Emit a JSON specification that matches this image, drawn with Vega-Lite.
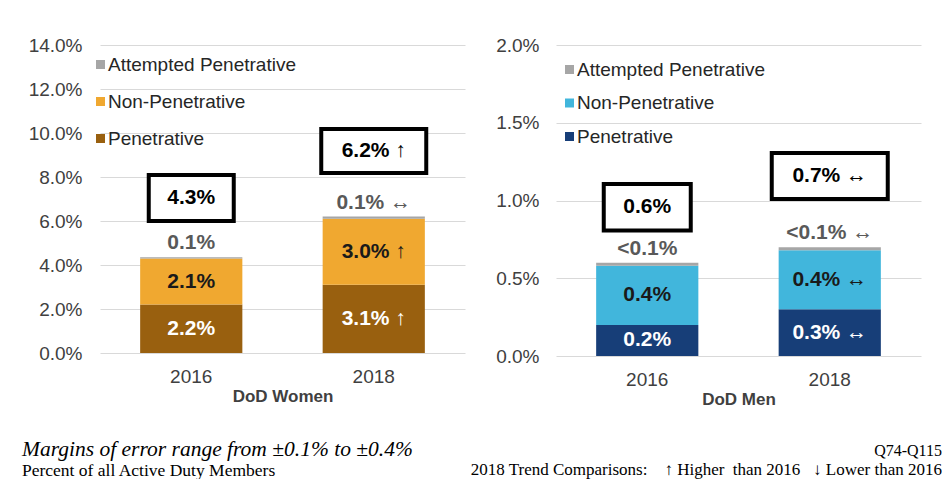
{
  "$schema": "https://vega.github.io/schema/vega-lite/v6.json",
  "background": "white",
  "padding": {"left": 22, "top": 36, "right": 0, "bottom": 0},
  "config": {
    "view": {"stroke": null},
    "font": "Liberation Sans",
    "axis": {"labelFont": "Liberation Sans", "titleFont": "Liberation Sans"},
    "legend": {"labelFont": "Liberation Sans"}
  },
  "datasets": {
    "women": [
      {"year": "2016", "type": "Penetrative", "k": 1, "value": 2.2, "label": "2.2%"},
      {"year": "2016", "type": "Non-Penetrative", "k": 2, "value": 2.1, "label": "2.1%"},
      {"year": "2016", "type": "Attempted Penetrative", "k": 3, "value": 0.05, "label": "0.1%"},
      {"year": "2018", "type": "Penetrative", "k": 1, "value": 3.1, "label": "3.1% ↑"},
      {"year": "2018", "type": "Non-Penetrative", "k": 2, "value": 3.0, "label": "3.0% ↑"},
      {"year": "2018", "type": "Attempted Penetrative", "k": 3, "value": 0.1, "label": "0.1% ↔"}
    ],
    "womenTotals": [
      {"year": "2016", "total": 4.3, "label": "4.3%"},
      {"year": "2018", "total": 6.2, "label": "6.2% ↑"}
    ],
    "men": [
      {"year": "2016", "type": "Penetrative", "k": 1, "value": 0.2, "label": "0.2%"},
      {"year": "2016", "type": "Non-Penetrative", "k": 2, "value": 0.38, "label": "0.4%"},
      {"year": "2016", "type": "Attempted Penetrative", "k": 3, "value": 0.02, "label": "<0.1%"},
      {"year": "2018", "type": "Penetrative", "k": 1, "value": 0.3, "label": "0.3% ↔"},
      {"year": "2018", "type": "Non-Penetrative", "k": 2, "value": 0.38, "label": "0.4% ↔"},
      {"year": "2018", "type": "Attempted Penetrative", "k": 3, "value": 0.02, "label": "<0.1% ↔"}
    ],
    "menTotals": [
      {"year": "2016", "total": 0.6, "label": "0.6%"},
      {"year": "2018", "total": 0.7, "label": "0.7% ↔"}
    ]
  },
  "hconcat": [
    {
      "width": 365,
      "height": 308,
      "title": {
        "text": "Margins of error range from ±0.1% to ±0.4%",
        "subtitle": "Percent of all Active Duty Members",
        "orient": "bottom", "anchor": "start", "frame": "group",
        "dx": -78, "offset": 35,
        "font": "Liberation Serif", "fontStyle": "italic", "fontWeight": "normal", "fontSize": 21.5, "color": "#000000",
        "subtitleFont": "Liberation Serif", "subtitleFontSize": 17.5, "subtitleFontStyle": "normal", "subtitleColor": "#000000", "subtitlePadding": 1
      },
      "data": {"name": "women"},
      "encoding": {
        "x": {
          "field": "year", "type": "nominal",
          "scale": {"paddingInner": 0.44, "paddingOuter": 0.22},
          "axis": {"title": "DoD Women", "labelAngle": 0, "domain": false, "ticks": false, "labelFontSize": 19, "labelColor": "#404040", "labelPadding": 14, "titleFontSize": 17, "titleFontWeight": "bold", "titleColor": "#404040", "titlePadding": 2}
        }
      },
      "layer": [
        {
          "mark": {"type": "bar"},
          "encoding": {
            "y": {
              "field": "value", "type": "quantitative", "stack": "zero",
              "scale": {"domain": [0, 14], "nice": false},
              "axis": {"title": null, "values": [0, 2, 4, 6, 8, 10, 12, 14], "labelExpr": "format(datum.value, '.1f') + '%'", "domain": false, "ticks": false, "grid": true, "gridColor": "#d9d9d9", "labelFontSize": 19, "labelColor": "#404040", "labelPadding": 18}
            },
            "color": {
              "field": "type", "type": "nominal",
              "scale": {"domain": ["Attempted Penetrative", "Non-Penetrative", "Penetrative"], "range": ["#a6a6a6", "#f0a830", "#99600f"]},
              "legend": {"title": null, "orient": "none", "legendX": -9, "legendY": 10, "symbolType": "square", "symbolSize": 81, "symbolStrokeWidth": 0, "labelFontSize": 19, "labelColor": "#262626", "labelOffset": -2, "labelLimit": 400, "rowPadding": 17, "padding": 0}
            },
            "order": {"field": "k", "type": "quantitative"}
          }
        },
        {
          "transform": [{"filter": "datum.type !== 'Attempted Penetrative'"}],
          "mark": {"type": "text", "fontWeight": "bold", "fontSize": 21, "baseline": "middle"},
          "encoding": {
            "y": {"field": "value", "type": "quantitative", "stack": "zero", "bandPosition": 0.5},
            "detail": {"field": "type"},
            "order": {"field": "k", "type": "quantitative"},
            "text": {"field": "label"},
            "color": {"condition": {"test": "datum.type === 'Penetrative'", "value": "#ffffff"}, "value": "#1a1a1a"}
          }
        },
        {
          "transform": [
            {"stack": "value", "groupby": ["year"], "sort": [{"field": "k", "order": "ascending"}], "as": ["v0", "v1"]},
            {"filter": "datum.type === 'Attempted Penetrative'"}
          ],
          "mark": {"type": "text", "fontWeight": "bold", "fontSize": 21, "baseline": "middle", "color": "#595959", "yOffset": -14},
          "encoding": {
            "y": {"field": "v1", "type": "quantitative"},
            "text": {"field": "label"}
          }
        },
        {
          "data": {"name": "womenTotals"},
          "transform": [{"filter": "datum.year === '2016'"}],
          "mark": {"type": "bar", "width": 85, "fill": "white", "stroke": "black", "strokeWidth": 4, "yOffset": -83.4, "y2Offset": -37.4},
          "encoding": {"y": {"field": "total", "type": "quantitative"}, "y2": {"field": "total"}}
        },
        {
          "data": {"name": "womenTotals"},
          "transform": [{"filter": "datum.year === '2018'"}],
          "mark": {"type": "bar", "width": 105, "fill": "white", "stroke": "black", "strokeWidth": 4, "yOffset": -87.6, "y2Offset": -43.6},
          "encoding": {"y": {"field": "total", "type": "quantitative"}, "y2": {"field": "total"}}
        },
        {
          "data": {"name": "womenTotals"},
          "transform": [{"filter": "datum.year === '2016'"}],
          "mark": {"type": "text", "fontWeight": "bold", "fontSize": 21, "baseline": "middle", "color": "#000000", "yOffset": -60},
          "encoding": {"y": {"field": "total", "type": "quantitative"}, "text": {"field": "label"}}
        },
        {
          "data": {"name": "womenTotals"},
          "transform": [{"filter": "datum.year === '2018'"}],
          "mark": {"type": "text", "fontWeight": "bold", "fontSize": 21, "baseline": "middle", "color": "#000000", "yOffset": -65.6},
          "encoding": {"y": {"field": "total", "type": "quantitative"}, "text": {"field": "label"}}
        }
      ]
    },
    {
      "width": 365,
      "height": 311,
      "title": {
        "text": "Q74-Q115",
        "subtitle": "2018 Trend Comparisons:\u00a0\u00a0\u00a0 ↑ Higher\u00a0 than 2016\u00a0\u00a0 ↓ Lower than 2016",
        "orient": "bottom", "anchor": "end", "frame": "group",
        "dx": 21, "offset": 35.5,
        "font": "Liberation Serif", "fontStyle": "normal", "fontWeight": "normal", "fontSize": 16, "color": "#000000",
        "subtitleFont": "Liberation Serif", "subtitleFontSize": 17, "subtitleFontStyle": "normal", "subtitleColor": "#000000", "subtitlePadding": 3.5
      },
      "data": {"name": "men"},
      "encoding": {
        "x": {
          "field": "year", "type": "nominal",
          "scale": {"paddingInner": 0.44, "paddingOuter": 0.22},
          "axis": {"title": "DoD Men", "labelAngle": 0, "domain": false, "ticks": false, "labelFontSize": 19, "labelColor": "#404040", "labelPadding": 14, "titleFontSize": 17, "titleFontWeight": "bold", "titleColor": "#404040", "titlePadding": 2}
        }
      },
      "layer": [
        {
          "mark": {"type": "bar"},
          "encoding": {
            "y": {
              "field": "value", "type": "quantitative", "stack": "zero",
              "scale": {"domain": [0, 2], "nice": false},
              "axis": {"title": null, "values": [0, 0.5, 1, 1.5, 2], "labelExpr": "format(datum.value, '.1f') + '%'", "domain": false, "ticks": false, "grid": true, "gridColor": "#d9d9d9", "labelFontSize": 19, "labelColor": "#404040", "labelPadding": 17}
            },
            "color": {
              "field": "type", "type": "nominal",
              "scale": {"domain": ["Attempted Penetrative", "Non-Penetrative", "Penetrative"], "range": ["#a6a6a6", "#41b6dc", "#173e78"]},
              "legend": {"title": null, "orient": "none", "legendX": 4, "legendY": 15, "symbolType": "square", "symbolSize": 81, "symbolStrokeWidth": 0, "labelFontSize": 19, "labelColor": "#262626", "labelOffset": -2, "labelLimit": 400, "rowPadding": 13.5, "padding": 0}
            },
            "order": {"field": "k", "type": "quantitative"}
          }
        },
        {
          "transform": [{"filter": "datum.type !== 'Attempted Penetrative'"}],
          "mark": {"type": "text", "fontWeight": "bold", "fontSize": 21, "baseline": "middle"},
          "encoding": {
            "y": {"field": "value", "type": "quantitative", "stack": "zero", "bandPosition": 0.5},
            "detail": {"field": "type"},
            "order": {"field": "k", "type": "quantitative"},
            "text": {"field": "label"},
            "color": {"condition": {"test": "datum.type === 'Penetrative'", "value": "#ffffff"}, "value": "#1a1a1a"}
          }
        },
        {
          "transform": [
            {"stack": "value", "groupby": ["year"], "sort": [{"field": "k", "order": "ascending"}], "as": ["v0", "v1"]},
            {"filter": "datum.type === 'Attempted Penetrative'"}
          ],
          "mark": {"type": "text", "fontWeight": "bold", "fontSize": 21, "baseline": "middle", "color": "#595959", "yOffset": -14},
          "encoding": {
            "y": {"field": "v1", "type": "quantitative"},
            "text": {"field": "label"}
          }
        },
        {
          "data": {"name": "menTotals"},
          "transform": [{"filter": "datum.year === '2016'"}],
          "mark": {"type": "bar", "width": 87, "fill": "white", "stroke": "black", "strokeWidth": 4, "yOffset": -78.7, "y2Offset": -32.2},
          "encoding": {"y": {"field": "total", "type": "quantitative"}, "y2": {"field": "total"}}
        },
        {
          "data": {"name": "menTotals"},
          "transform": [{"filter": "datum.year === '2018'"}],
          "mark": {"type": "bar", "width": 116, "fill": "white", "stroke": "black", "strokeWidth": 4, "yOffset": -94.2, "y2Offset": -48.2},
          "encoding": {"y": {"field": "total", "type": "quantitative"}, "y2": {"field": "total"}}
        },
        {
          "data": {"name": "menTotals"},
          "transform": [{"filter": "datum.year === '2016'"}],
          "mark": {"type": "text", "fontWeight": "bold", "fontSize": 21, "baseline": "middle", "color": "#000000", "yOffset": -55.5},
          "encoding": {"y": {"field": "total", "type": "quantitative"}, "text": {"field": "label"}}
        },
        {
          "data": {"name": "menTotals"},
          "transform": [{"filter": "datum.year === '2018'"}],
          "mark": {"type": "text", "fontWeight": "bold", "fontSize": 21, "baseline": "middle", "color": "#000000", "yOffset": -71.2},
          "encoding": {"y": {"field": "total", "type": "quantitative"}, "text": {"field": "label"}}
        }
      ]
    }
  ],
  "bounds": "flush",
  "spacing": 91,
  "resolve": {"scale": {"color": "independent", "x": "independent", "y": "independent"}, "legend": {"color": "independent"}}
}
